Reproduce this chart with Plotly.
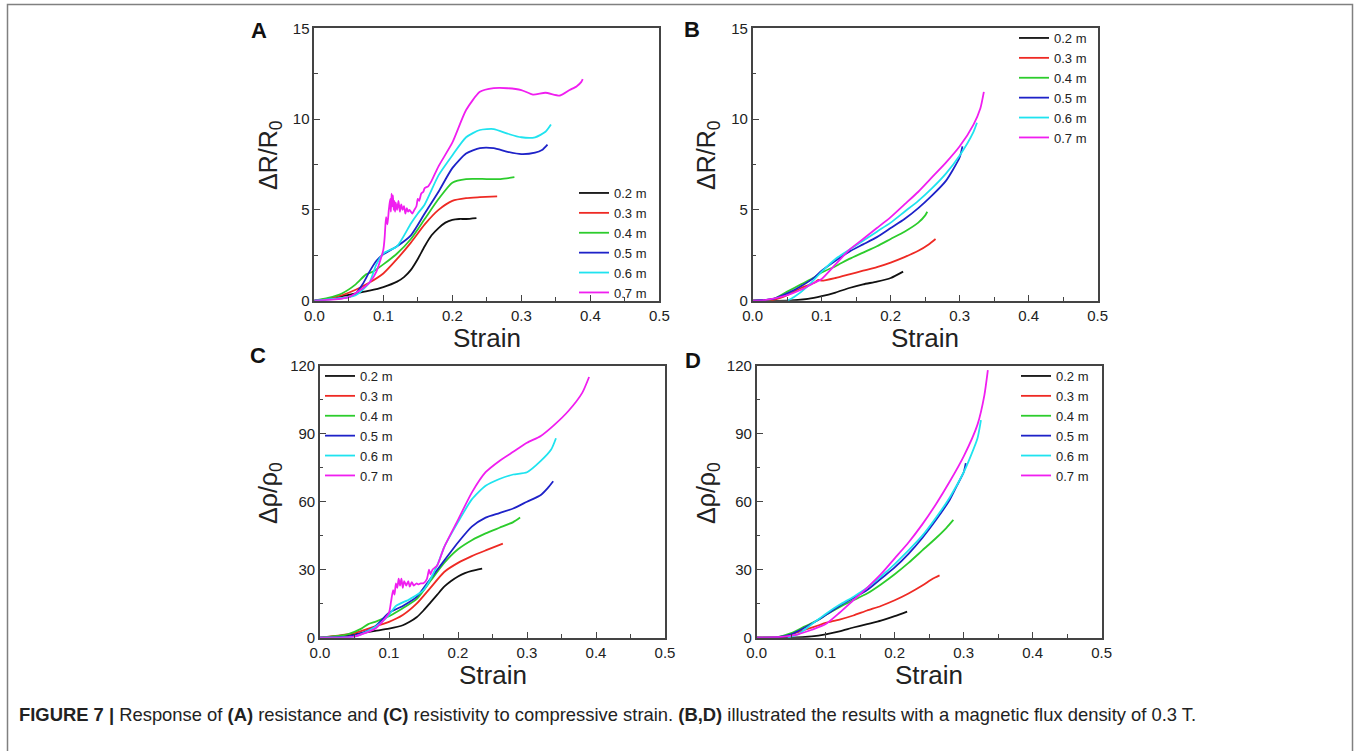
import plotly.graph_objects as go

W, H = 1356, 751
FONT = "Liberation Sans, Arial, sans-serif"

labels = ["0.2 m", "0.3 m", "0.4 m", "0.5 m", "0.6 m", "0.7 m"]
colors = ["#111111", "#ee2a24", "#2ccc2c", "#1e22c8", "#1fe3ef", "#f01ef0"]

# ---------------- Panel A : dR/R0 vs strain ----------------
a02_x = [0, 0.02, 0.04, 0.06, 0.08, 0.10, 0.12, 0.13, 0.14, 0.15, 0.16, 0.17, 0.18, 0.19, 0.20, 0.21, 0.22, 0.235]
a02_y = [0, 0.1, 0.25, 0.4, 0.55, 0.75, 1.05, 1.3, 1.7, 2.3, 3.0, 3.6, 4.0, 4.3, 4.45, 4.5, 4.5, 4.55]
a03_x = [0, 0.02, 0.04, 0.06, 0.08, 0.10, 0.12, 0.14, 0.16, 0.18, 0.20, 0.22, 0.24, 0.265]
a03_y = [0, 0.1, 0.3, 0.6, 1.0, 1.5, 2.3, 3.2, 4.2, 5.0, 5.5, 5.65, 5.7, 5.75]
a04_x = [0, 0.02, 0.04, 0.06, 0.075, 0.085, 0.10, 0.12, 0.14, 0.16, 0.18, 0.20, 0.22, 0.25, 0.27, 0.29]
a04_y = [0, 0.15, 0.4, 0.9, 1.45, 1.6, 2.0, 2.6, 3.4, 4.5, 5.6, 6.5, 6.7, 6.7, 6.7, 6.8]
a05_x = [0, 0.03, 0.05, 0.06, 0.07, 0.08, 0.09, 0.10, 0.12, 0.14, 0.16, 0.18, 0.20, 0.22, 0.24, 0.26, 0.28, 0.30, 0.32, 0.33, 0.338]
a05_y = [0, 0.1, 0.2, 0.4, 0.9, 1.6, 2.2, 2.55, 3.0, 3.6, 4.8, 6.0, 7.3, 8.1, 8.4, 8.4, 8.2, 8.07, 8.15, 8.3, 8.6]
a06_x = [0, 0.05, 0.06, 0.07, 0.08, 0.09, 0.10, 0.12, 0.14, 0.15, 0.16, 0.18, 0.20, 0.22, 0.24, 0.26, 0.28, 0.30, 0.32, 0.335, 0.343]
a06_y = [0, 0.2, 0.3, 0.6, 1.0, 2.0, 2.6, 3.0, 4.25, 4.8, 5.3, 6.9, 8.0, 9.0, 9.4, 9.45, 9.2, 9.0, 9.0, 9.3, 9.7]
a07_x = [0, 0.05, 0.08, 0.09, 0.100, 0.102, 0.104, 0.106, 0.108, 0.110, 0.111, 0.112, 0.113, 0.114, 0.115,
         0.116, 0.117, 0.118, 0.120, 0.122, 0.124, 0.126, 0.128, 0.130, 0.132, 0.134, 0.136, 0.138, 0.140,
         0.142, 0.145, 0.148, 0.150, 0.152, 0.155, 0.158, 0.160, 0.165, 0.17, 0.18, 0.20, 0.22, 0.24, 0.26,
         0.28, 0.30, 0.317, 0.335, 0.356, 0.37, 0.38, 0.387, 0.389]
a07_y = [0, 0.2, 1.0, 1.6, 2.8, 3.5, 4.6, 4.2, 5.0, 5.6, 4.9, 5.9, 5.2, 5.8, 5.0,
         5.5, 4.9, 5.4, 5.0, 5.5, 4.9, 5.3, 5.0, 5.2, 4.8, 5.1, 4.9, 5.0, 4.9,
         4.8, 5.0, 5.2, 5.6, 5.5, 5.9, 6.0, 6.2, 6.3, 6.6, 7.4, 8.7, 10.5, 11.5, 11.7,
         11.7, 11.6, 11.35, 11.45, 11.3, 11.6, 11.8, 12.05, 12.2]

# ---------------- Panel B : dR/R0 vs strain (0.3 T) ----------------
b02_x = [0, 0.05, 0.08, 0.10, 0.12, 0.14, 0.16, 0.18, 0.20, 0.218]
b02_y = [0, 0.0, 0.1, 0.25, 0.45, 0.7, 0.9, 1.05, 1.25, 1.6]
b03_x = [0, 0.03, 0.05, 0.07, 0.09, 0.095, 0.10, 0.12, 0.14, 0.16, 0.18, 0.20, 0.22, 0.24, 0.255, 0.265]
b03_y = [0, 0.05, 0.3, 0.7, 1.0, 1.15, 1.1, 1.25, 1.45, 1.65, 1.85, 2.1, 2.4, 2.75, 3.1, 3.4]
b04_x = [0, 0.03, 0.05, 0.07, 0.09, 0.10, 0.12, 0.14, 0.16, 0.18, 0.20, 0.22, 0.24, 0.25, 0.253]
b04_y = [0, 0.1, 0.5, 0.9, 1.3, 1.55, 1.9, 2.3, 2.65, 3.0, 3.4, 3.8, 4.3, 4.7, 4.9]
b05_x = [0, 0.03, 0.05, 0.07, 0.09, 0.10, 0.12, 0.14, 0.16, 0.18, 0.20, 0.22, 0.24, 0.26, 0.28, 0.29, 0.30, 0.304]
b05_y = [0, 0.1, 0.4, 0.8, 1.3, 1.65, 2.2, 2.7, 3.1, 3.5, 4.0, 4.5, 5.1, 5.8, 6.6, 7.2, 7.9, 8.5]
b06_x = [0.05, 0.06, 0.08, 0.10, 0.12, 0.14, 0.16, 0.18, 0.20, 0.22, 0.24, 0.26, 0.28, 0.30, 0.32, 0.325]
b06_y = [0, 0.2, 0.8, 1.6, 2.3, 2.8, 3.3, 3.8, 4.3, 4.9, 5.5, 6.2, 7.0, 8.0, 9.3, 9.8]
b07_x = [0, 0.02, 0.05, 0.07, 0.09, 0.10, 0.12, 0.14, 0.16, 0.18, 0.20, 0.22, 0.24, 0.26, 0.28, 0.30, 0.32, 0.33, 0.335]
b07_y = [0, 0.05, 0.3, 0.6, 1.0, 1.2, 2.0, 2.8, 3.4, 4.0, 4.6, 5.3, 6.0, 6.8, 7.6, 8.5, 9.7, 10.6, 11.5]

# ---------------- Panel C : drho/rho0 vs strain ----------------
c02_x = [0, 0.05, 0.08, 0.10, 0.12, 0.13, 0.14, 0.15, 0.16, 0.17, 0.18, 0.19, 0.20, 0.21, 0.22, 0.235]
c02_y = [0, 1.5, 3, 4, 5.5, 7, 9, 12, 15.5, 19, 22.5, 25, 27, 28.5, 29.5, 30.5]
c03_x = [0, 0.05, 0.08, 0.10, 0.12, 0.14, 0.16, 0.18, 0.20, 0.22, 0.24, 0.265]
c03_y = [0, 2, 5, 7, 10, 15, 22, 29, 33, 36, 38.5, 41.5]
c04_x = [0, 0.04, 0.06, 0.07, 0.08, 0.10, 0.12, 0.14, 0.16, 0.18, 0.20, 0.22, 0.24, 0.26, 0.28, 0.29]
c04_y = [0, 1.5, 4, 6, 7, 9.5, 13, 17, 25, 33, 39, 43, 46, 48.5, 51, 53]
c05_x = [0, 0.04, 0.06, 0.08, 0.09, 0.10, 0.12, 0.14, 0.16, 0.18, 0.20, 0.22, 0.24, 0.26, 0.28, 0.30, 0.32, 0.33, 0.338]
c05_y = [0, 0.5, 2, 5, 8, 11, 14, 18, 26, 34, 42, 49, 53, 55, 57, 60, 63, 66, 69]
c06_x = [0, 0.05, 0.07, 0.09, 0.10, 0.11, 0.13, 0.15, 0.17, 0.18, 0.20, 0.22, 0.24, 0.26, 0.28, 0.30, 0.32, 0.335, 0.342]
c06_y = [0, 0.5, 3, 7, 10, 14, 17, 21, 32, 40, 51, 61, 67, 70, 72, 73, 78, 83, 88]
c07_x = [0, 0.05, 0.08, 0.09, 0.100, 0.103, 0.106, 0.108, 0.110, 0.112, 0.114, 0.116, 0.118, 0.120, 0.122,
         0.125, 0.128, 0.130, 0.133, 0.136, 0.140, 0.143, 0.146, 0.150, 0.155, 0.158, 0.160, 0.163, 0.17,
         0.18, 0.20, 0.22, 0.24, 0.26, 0.28, 0.30, 0.32, 0.34, 0.36, 0.38, 0.39]
c07_y = [0, 0.5, 4, 7, 11, 16, 21, 19, 24, 22, 26, 23, 26, 22, 25,
         23, 25, 22.5, 24.5, 23, 24, 23.5, 24, 24, 26, 30, 28, 30, 32,
         40, 52, 64, 73, 78, 82, 86, 89, 94, 100, 108, 115]

# ---------------- Panel D : drho/rho0 vs strain (0.3 T) ----------------
d02_x = [0, 0.05, 0.08, 0.10, 0.12, 0.14, 0.16, 0.18, 0.20, 0.218]
d02_y = [0, 0, 0.6, 1.5, 2.8, 4.5, 6, 7.5, 9.5, 11.5]
d03_x = [0, 0.03, 0.05, 0.07, 0.09, 0.10, 0.12, 0.14, 0.16, 0.18, 0.20, 0.22, 0.24, 0.255, 0.265]
d03_y = [0, 0.2, 1.5, 3.5, 5.5, 6.5, 8, 9.8, 12, 14, 16.5, 19.5, 23, 26, 27.5]
d04_x = [0, 0.03, 0.05, 0.07, 0.09, 0.10, 0.12, 0.14, 0.16, 0.18, 0.20, 0.22, 0.24, 0.26, 0.275, 0.285]
d04_y = [0, 0.3, 2, 5, 8, 10, 13.5, 16.5, 19.5, 23.5, 28, 33, 38.5, 44, 48.5, 52]
d05_x = [0, 0.03, 0.05, 0.07, 0.09, 0.10, 0.12, 0.14, 0.16, 0.18, 0.20, 0.22, 0.24, 0.26, 0.28, 0.29, 0.30, 0.303]
d05_y = [0, 0.2, 1.5, 4.5, 8, 10, 14, 17.5, 21, 26, 31, 37, 44, 52, 61, 67, 73, 77]
d06_x = [0.045, 0.06, 0.08, 0.10, 0.12, 0.14, 0.16, 0.18, 0.20, 0.22, 0.24, 0.26, 0.28, 0.30, 0.31, 0.32, 0.325]
d06_y = [0, 1.5, 6, 10.5, 14.5, 18, 22, 27, 32.5, 38.5, 45, 53, 62, 73, 80, 88, 96]
d07_x = [0, 0.04, 0.06, 0.08, 0.10, 0.12, 0.14, 0.16, 0.18, 0.20, 0.22, 0.24, 0.26, 0.28, 0.30, 0.32, 0.33, 0.335]
d07_y = [0, 0.5, 1.5, 3.5, 6, 11, 16.5, 22, 28, 35, 42, 50, 59, 69, 80, 94, 107, 118]

x_ticks = [0.0, 0.1, 0.2, 0.3, 0.4, 0.5]
yAB_ticks = [0, 5, 10, 15]
yCD_ticks = [0, 30, 60, 90, 120]

panels = [
    ("A", [(a02_x, a02_y), (a03_x, a03_y), (a04_x, a04_y), (a05_x, a05_y), (a06_x, a06_y), (a07_x, a07_y)]),
    ("B", [(b02_x, b02_y), (b03_x, b03_y), (b04_x, b04_y), (b05_x, b05_y), (b06_x, b06_y), (b07_x, b07_y)]),
    ("C", [(c02_x, c02_y), (c03_x, c03_y), (c04_x, c04_y), (c05_x, c05_y), (c06_x, c06_y), (c07_x, c07_y)]),
    ("D", [(d02_x, d02_y), (d03_x, d03_y), (d04_x, d04_y), (d05_x, d05_y), (d06_x, d06_y), (d07_x, d07_y)]),
]

# pixel boxes (left, right, top, bottom)
boxes = {
    "A": (314.3, 659.3, 28.3, 300.7),
    "B": (752.7, 1097.7, 28.3, 300.7),
    "C": (320.0, 665.0, 365.7, 637.7),
    "D": (756.7, 1101.7, 365.7, 637.7),
}
# legend top-left pixel
legpos = {"A": (574, 178), "B": (1014, 23), "C": (320, 361), "D": (1016, 361)}


def px(v):
    return v / W


def py(v):
    return 1 - v / H


fig = go.Figure()
axis_common = dict(
    showline=True, mirror=True, linecolor="#444444", linewidth=1.6,
    ticks="inside", ticklen=6, tickwidth=1.3, tickcolor="#444444",
    showgrid=False, zeroline=False, automargin=False,
    tickfont=dict(family=FONT, size=15, color="#222222"),
)

layout_upd = {}
for i, (name, curves) in enumerate(panels):
    k = i + 1
    xa = "xaxis" if k == 1 else f"xaxis{k}"
    ya = "yaxis" if k == 1 else f"yaxis{k}"
    xr = "x" if k == 1 else f"x{k}"
    yr = "y" if k == 1 else f"y{k}"
    lg = "legend" if k == 1 else f"legend{k}"
    l, r, t, b = boxes[name]
    for j, (xs, ys) in enumerate(curves):
        fig.add_trace(go.Scatter(
            x=xs, y=ys, mode="lines", name=labels[j],
            line=dict(color=colors[j], width=1.8, shape="spline", smoothing=0.6),
            xaxis=xr, yaxis=yr, legend=lg,
        ))
    layout_upd[xa] = dict(
        axis_common, domain=[px(l), px(r)], range=[0, 0.5], anchor=yr,
        tickvals=x_ticks, tickformat=".1f",
        minor=dict(ticks="inside", ticklen=3.5, tickwidth=1.2, tickcolor="#444444", dtick=0.05, showgrid=False),
    )
    if name in ("A", "B"):
        yt, yrange, ymin = yAB_ticks, [0, 15], 2.5
    else:
        yt, yrange, ymin = yCD_ticks, [0, 120], 15
    layout_upd[ya] = dict(
        axis_common, domain=[py(b), py(t)], range=yrange, anchor=xr,
        tickvals=yt,
        minor=dict(ticks="inside", ticklen=3.5, tickwidth=1.2, tickcolor="#444444", dtick=ymin, showgrid=False),
    )
    lx, ly = legpos[name]
    layout_upd[lg] = dict(
        x=px(lx), y=py(ly), xanchor="left", yanchor="top",
        bgcolor="rgba(0,0,0,0)", borderwidth=0,
        font=dict(family=FONT, size=13, color="#222222"),
        tracegroupgap=0, itemwidth=30,
    )

fig.update_layout(**layout_upd)

ann = []
# panel letters
for name, (x, y) in {"A": (259, 31), "B": (692, 29), "C": (258, 355), "D": (693, 360)}.items():
    ann.append(dict(x=px(x), y=py(y), xref="paper", yref="paper", text=f"<b>{name}</b>",
                    showarrow=False, font=dict(family=FONT, size=22, color="#111111"),
                    xanchor="center", yanchor="middle"))
# x titles
for name in boxes:
    l, r, t, b = boxes[name]
    ann.append(dict(x=px((l + r) / 2), y=py(b + 37), xref="paper", yref="paper", text="Strain",
                    showarrow=False, font=dict(family=FONT, size=26, color="#222222"),
                    xanchor="center", yanchor="middle"))
# y titles
ytitles = {"A": ("ΔR/R<sub>0</sub>", 270, 155), "B": ("ΔR/R<sub>0</sub>", 708, 155),
           "C": ("Δρ/ρ<sub>0</sub>", 270, 493), "D": ("Δρ/ρ<sub>0</sub>", 708, 493)}
for name, (txt, x, y) in ytitles.items():
    ann.append(dict(x=px(x), y=py(y), xref="paper", yref="paper", text=txt, textangle=-90,
                    showarrow=False, font=dict(family=FONT, size=25, color="#222222"),
                    xanchor="center", yanchor="middle"))
# caption
ann.append(dict(x=px(17), y=py(714), xref="paper", yref="paper",
                text="<b>FIGURE 7 |</b> Response of <b>(A)</b> resistance and <b>(C)</b> resistivity to compressive strain. "
                     "<b>(B,D)</b> illustrated the results with a magnetic flux density of 0.3 T.",
                showarrow=False, font=dict(family=FONT, size=18.4, color="#222222"),
                xanchor="left", yanchor="middle"))

fig.update_layout(
    width=W, height=H, autosize=False,
    margin=dict(l=0, r=0, t=0, b=0, pad=0, autoexpand=False),
    paper_bgcolor="white", plot_bgcolor="white",
    annotations=ann,
    shapes=[dict(type="rect", xref="paper", yref="paper", x0=px(7.5), x1=px(1352.5), y0=-0.2, y1=py(4.5),
                 line=dict(color="#808080", width=1.5), fillcolor="rgba(0,0,0,0)", layer="below")],
)

fig.write_html(
    "out.html",
    config={"displayModeBar": False},
    post_script="document.body.style.margin='0';document.body.style.padding='0';"
                "document.documentElement.style.overflow='hidden';document.body.style.overflow='hidden';",
)
